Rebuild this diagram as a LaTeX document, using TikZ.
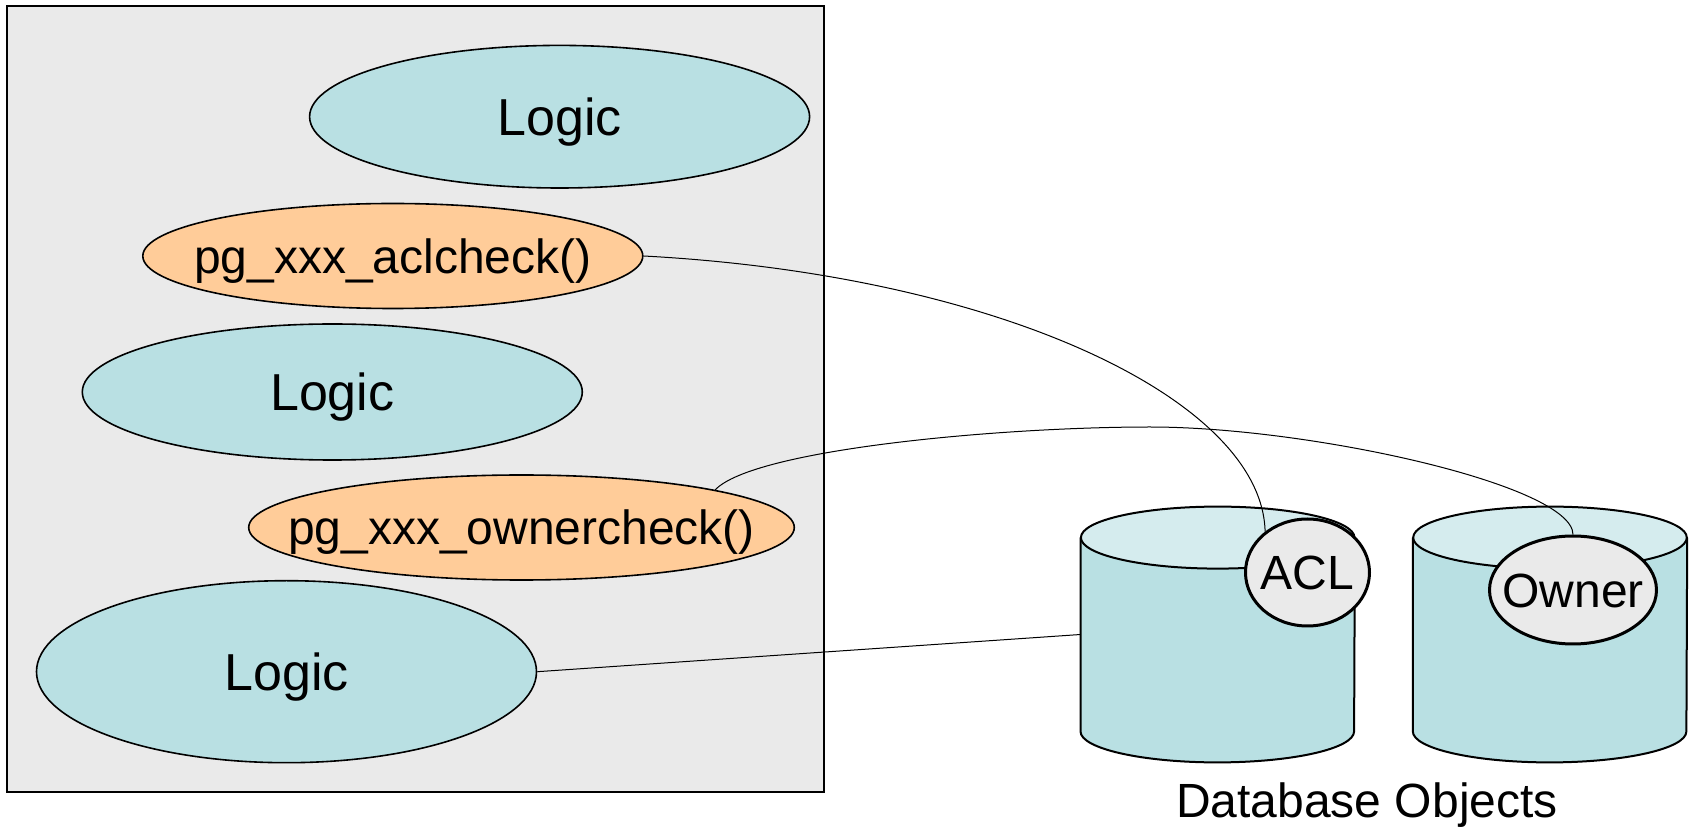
\documentclass[tikz,border=0pt]{standalone}
\usepackage{fontspec}
\setmainfont{Liberation Sans}
\usetikzlibrary{shapes.geometric}
\definecolor{panel}{HTML}{EAEAEA}
\definecolor{logicfill}{HTML}{B9E0E3}
\definecolor{checkfill}{HTML}{FFCC99}
\definecolor{cyltop}{HTML}{D5ECEE}
% zero-width text so the ellipse size comes only from the minimum sizes
\newcommand\zbox[1]{\makebox[0pt]{#1}}

\begin{document}
\begin{tikzpicture}[x=0.5pt,y=-0.5pt,
  blob/.style={ellipse, draw, line width=0.8pt, inner sep=0pt, text depth=0pt},
  logic/.style={blob, fill=logicfill, font=\fontsize{26}{30}\selectfont, text height=18.6pt, minimum width=250pt},
  check/.style={blob, fill=checkfill, font=\fontsize{24}{28}\selectfont, text height=17.2pt},
  tag/.style={ellipse, draw, line width=1.5pt, fill=panel, inner sep=0pt,
    font=\fontsize{24}{28}\selectfont, text height=17.2pt, text depth=0pt},
  dbbody/.style={inner sep=0pt, minimum width=136.8pt, minimum height=96.5pt},
  wire/.style={line width=0.5pt},
]
\useasboundingbox (0,0) rectangle (1694,828);

% code module
\draw[fill=panel, line width=1pt] (7,6.5) rectangle (824,792);

\node[logic, minimum height=71.3pt] (logicA) at (559.6,116.7) {\zbox{Logic}};
\node[check, minimum width=250pt, minimum height=52.5pt] (aclchk) at (392.8,256) {\zbox{pg\_xxx\_aclcheck()}};
\node[logic, minimum height=68pt] (logicB) at (332.3,392) {\zbox{Logic}};
\node[check, minimum width=272.8pt, minimum height=52.5pt] (ownchk) at (521.5,527.5) {\zbox{pg\_xxx\_ownercheck()}};
\node[logic, minimum height=91pt] (logicC) at (286.5,671.7) {\zbox{Logic}};

% database object cylinders
\node[dbbody] (dbA) at (1217.7,634.5) {};
\node[dbbody] (dbB) at (1550,634.5) {};
\foreach \db in {dbA,dbB}{
  \fill[logicfill] (\db.north west) -- (\db.south west)
    arc[start angle=180, end angle=360, x radius=68.4pt, y radius=15.5pt]
    -- (\db.north east) -- cycle;
  \draw[line width=1pt] (\db.north west) -- (\db.south west)
    arc[start angle=180, end angle=360, x radius=68.4pt, y radius=15.5pt]
    -- (\db.north east);
  \draw[line width=1pt, fill=cyltop] (\db.north) ellipse[x radius=68.4pt, y radius=15.5pt];
}

\node[tag, minimum width=62pt, minimum height=53.5pt] (acl) at (1307.5,572.5) {\zbox{ACL}};
\node[tag, minimum width=83.5pt, minimum height=54pt] (own) at (1573,590) {\zbox{Owner}};

\node[font=\fontsize{24}{28}\selectfont, anchor=base, inner sep=0pt] (dblabel) at (1367,818) {Database Objects};

% connectors
\draw[wire] (aclchk.east) .. controls (1000,275) and (1262,400) .. (acl.136);
\draw[wire] (ownchk.11) .. controls (753.75,449.3) and (1000,427) .. (1150,427)
  .. controls (1310,427) and (1572.6,485) .. (own.north);
\draw[wire] (logicC.east) -- (dbA.west);
\end{tikzpicture}
\end{document}
